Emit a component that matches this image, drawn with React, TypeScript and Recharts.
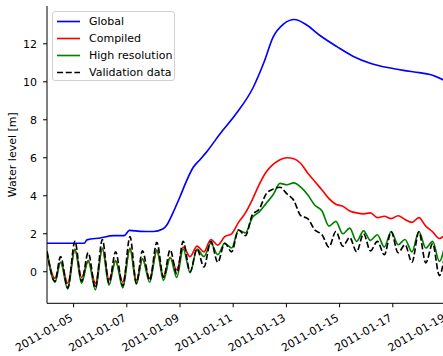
import React from 'react';
import { LineChart, Line, XAxis, YAxis } from 'recharts';

// days are counted from this date
const startDate = '2011-01-04';
const tickLabels = [
  '2011-01-05', '2011-01-07', '2011-01-09', '2011-01-11',
  '2011-01-13', '2011-01-15', '2011-01-17', '2011-01-19',
];
const levelTicks = [0, 2, 4, 6, 8, 10, 12];

// high / low water times (days since start) shared by the tidal series
const tideDays = [
  0.0, 0.3, 0.51, 0.78, 1.05, 1.3, 1.55, 1.82, 2.08, 2.33, 2.58, 2.85, 3.12, 3.36, 3.59,
  3.86, 4.13, 4.38, 4.63, 4.88, 5.12, 5.38, 5.64, 5.9, 6.16, 6.42, 6.68, 6.94, 7.2, 7.46,
  7.72, 7.98, 8.24, 8.5, 8.76, 9.02, 9.28, 9.54, 9.8, 10.07, 10.34, 10.6, 10.86, 11.12, 11.38,
  11.64, 11.9, 12.16, 12.42, 12.68, 12.94, 13.2, 13.46, 13.72, 13.98, 14.24, 14.5, 14.75, 15.0,
];
const compiled = [
  1.0, -0.35, 0.5, -0.6, 1.15, -0.3, 0.55, -0.6, 1.2, -0.4, 0.55, -0.55, 1.2, -0.45, 0.65,
  -0.35, 1.1, -0.25, 0.75, 0.1, 1.3, 0.8, 1.35, 1.05, 1.7, 1.4, 1.85, 2.0, 2.6, 3.1,
  3.8, 4.6, 5.25, 5.65, 5.9, 6.0, 5.95, 5.7, 5.2, 4.75, 4.3, 3.85, 3.55, 3.45, 3.2,
  3.1, 3.05, 3.1, 2.85, 2.92, 2.8, 2.95, 2.75, 2.6, 2.85, 2.4, 2.1, 1.75, 2.0,
];
const highRes = [
  1.1, -0.55, 0.5, -0.9, 1.2, -0.6, 0.6, -0.95, 1.25, -0.7, 0.6, -0.85, 1.25, -0.65, 0.7,
  -0.55, 1.15, -0.45, 0.75, -0.3, 1.2, -0.05, 1.2, 0.8, 1.5, 0.9, 1.5, 1.25, 2.2, 2.05,
  2.85, 3.15, 3.6, 4.05, 4.65, 4.58, 4.68, 4.45, 4.05, 3.5, 3.2, 2.4, 2.65, 2.0, 2.3,
  1.6, 2.15, 1.65, 1.95, 1.3, 2.12, 1.42, 1.7, 1.05, 2.12, 1.25, 1.6, 0.55, 1.7,
];
const validation = [
  1.05, -0.5, 0.8, -0.85, 1.6, -0.5, 1.0, -0.85, 1.7, -0.6, 1.05, -0.75, 1.85, -0.6, 1.1,
  -0.45, 1.55, -0.3, 1.15, -0.1, 1.6, 0.0, 1.2, 0.25, 1.6, 0.5, 1.5, 1.05, 2.2, 1.9,
  3.0, 3.3, 4.1, 4.35, 4.45, 4.1, 3.75, 2.95, 2.8, 2.2, 1.95, 1.3, 2.12, 1.35, 1.8,
  1.05, 2.0, 1.1, 1.6, 0.9, 2.1, 1.0, 1.42, 0.5, 2.1, 0.47, 1.48, -0.2, 1.4,
];

// global model is smooth, so it is sampled more sparsely
const globalDays = [
  0, 1.4, 1.5, 2.0, 2.5, 2.9, 3.1, 3.5, 4.0, 4.35, 4.5, 4.7, 5.0, 5.25, 5.5, 5.75,
  6.05, 6.5, 7.1, 7.75, 8.15, 8.5, 8.9, 9.3, 9.75, 10.25, 10.9, 11.5, 12.15, 12.8,
  13.4, 14.0, 14.4, 14.9,
];
const globalLevel = [
  1.5, 1.5, 1.68, 1.78, 1.9, 1.9, 2.18, 2.13, 2.12, 2.25, 2.45, 3.0, 3.95, 4.8, 5.5, 5.9,
  6.4, 7.25, 8.3, 9.7, 11.0, 12.35, 13.05, 13.28, 13.0, 12.45, 11.85, 11.35, 10.98, 10.75,
  10.6, 10.48, 10.38, 10.1,
];

const DAY_MS = 86400000;
const dayOf = (s: string) => (Date.parse(s) - Date.parse(startDate)) / DAY_MS;
const dateTicks = tickLabels.map(dayOf);

const toPoints = (days: number[], values: number[]) =>
  days.map((day, i) => ({ day, level: values[i] }));

const FONT = '"DejaVu Sans", sans-serif';
const LW = 1.65;
const DASH = '6.1 2.6';

const series = [
  { name: 'Global', color: '#0000ff', points: toPoints(globalDays, globalLevel), dash: undefined },
  { name: 'Compiled', color: '#ff0000', points: toPoints(tideDays, compiled), dash: undefined },
  { name: 'High resolution', color: '#008000', points: toPoints(tideDays, highRes), dash: undefined },
  { name: 'Validation data', color: '#000000', points: toPoints(tideDays, validation), dash: DASH },
];

const DateTick = ({ x, y, payload }: any) => {
  const label = tickLabels[dateTicks.indexOf(payload.value)];
  const ty = y + 10.7;
  return (
    <text
      x={x}
      y={ty}
      transform={`rotate(-30 ${x} ${ty})`}
      textAnchor="end"
      fontSize={11}
      fontFamily={FONT}
      fill="#000"
    >
      {label}
    </text>
  );
};

const LegendBox = () => (
  <div
    style={{
      position: 'absolute',
      left: 52,
      top: 11,
      width: 123,
      height: 70,
      border: '1px solid #d0d0d0',
      borderRadius: 3,
      background: 'rgba(255,255,255,0.8)',
      paddingTop: 1,
      boxSizing: 'border-box',
      fontFamily: FONT,
      fontSize: 11,
      color: '#000',
    }}
  >
    {series.map((s) => (
      <div key={s.name} style={{ display: 'flex', alignItems: 'center', height: 17 }}>
        <svg width={23} height={17} style={{ marginLeft: 4, flex: 'none' }}>
          <line x1={0} x2={23} y1={8.5} y2={8.5} stroke={s.color} strokeWidth={LW} strokeDasharray={s.dash} />
        </svg>
        <span style={{ marginLeft: 9, whiteSpace: 'nowrap', lineHeight: '17px' }}>{s.name}</span>
      </div>
    ))}
  </div>
);

export default function App() {
  return (
    <div
      style={{
        position: 'absolute',
        left: 0,
        top: 0,
        width: 443,
        height: 356,
        overflow: 'hidden',
        background: '#fff',
      }}
    >
      <LineChart width={446} height={356} margin={{ top: 6, right: 0, bottom: 0, left: 0 }}>
        <XAxis
          dataKey="day"
          type="number"
          domain={[0, 15]}
          ticks={dateTicks}
          allowDataOverflow
          height={52.7}
          tickSize={4}
          tickMargin={2}
          stroke="#000"
          tick={<DateTick />}
          interval={0}
        />
        <XAxis
          xAxisId="top"
          orientation="top"
          dataKey="day"
          type="number"
          domain={[0, 15]}
          height={0}
          tick={false}
          tickLine={false}
          stroke="#000"
        />
        <YAxis
          type="number"
          domain={[-1.66, 13.99]}
          ticks={levelTicks}
          allowDataOverflow
          width={47}
          tickSize={4}
          tickMargin={6}
          stroke="#000"
          tick={{ fontSize: 11, fill: '#000', fontFamily: FONT }}
          interval={0}
          label={() => (
            <text
              x={13}
              y={154.7}
              transform="rotate(-90 13 154.7)"
              textAnchor="middle"
              dominantBaseline="central"
              fontSize={11}
              fontFamily={FONT}
              fill="#000"
            >
              Water level [m]
            </text>
          )}
        />
        {series.map((s) => (
          <Line
            key={s.name}
            data={s.points}
            dataKey="level"
            name={s.name}
            type="monotone"
            stroke={s.color}
            strokeWidth={LW}
            strokeDasharray={s.dash}
            dot={false}
            activeDot={false}
            isAnimationActive={false}
          />
        ))}
      </LineChart>
      <LegendBox />
    </div>
  );
}
